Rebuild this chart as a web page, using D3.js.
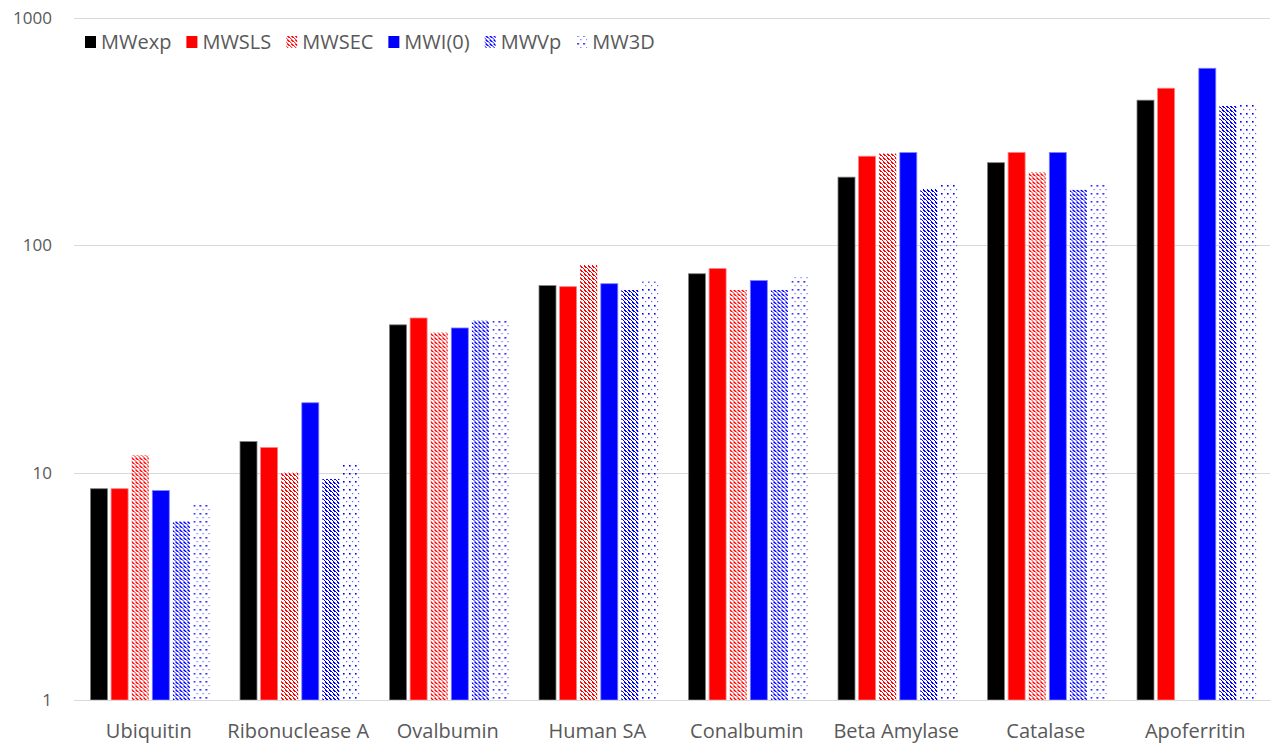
<!DOCTYPE html>
<html>
<head>
<meta charset="utf-8">
<script src="https://cdn.jsdelivr.net/npm/d3@7"></script>
<style>
  html, body { margin: 0; padding: 0; background: #fff; }
  svg { display: block; }
  text { font-family: "Open Sans", "Noto Sans", sans-serif; fill: #595959; }
</style>
</head>
<body>
<svg id="chart" width="1274" height="744"></svg>
<script>
// Proteins on the x axis
const categories = ["Ubiquitin", "Ribonuclease A", "Ovalbumin", "Human SA", "Conalbumin", "Beta Amylase", "Catalase", "Apoferritin"];

// Series names, in legend / bar order
const seriesNames = ["MWexp", "MWSLS", "MWSEC", "MWI(0)", "MWVp", "MW3D"];

// Molecular weights (kDa) per series, one value per protein (null = not measured)
const mwExp = [8.5, 13.7, 44.7, 66.5, 75, 199.5, 231, 435];
const mwSLS = [8.5, 12.9, 47.9, 65.8, 79, 246.6, 256, 491];
const mwSEC = [11.9, 10.0, 41.4, 82, 63.6, 253.4, 209.8, null];
const mwI0  = [8.34, 20.3, 43.3, 67.8, 70, 255.8, 256, 601];
const mwVp  = [6.11, 9.38, 46.7, 63.6, 63.6, 177, 175.4, 410];
const mw3D  = [7.36, 11.1, 46.5, 69.2, 74, 188.8, 187.7, 422];

// Log axis ticks
const yTicks = [1, 10, 100, 1000];

const seriesValues = [mwExp, mwSLS, mwSEC, mwI0, mwVp, mw3D];

const svg = d3.select("#chart");
const margin = { left: 74, right: 4, top: 18, bottom: 44 };
const W = 1274, H = 744;

const x = d3.scaleBand()
  .domain(categories)
  .range([margin.left, W - margin.right])
  .paddingInner(0).paddingOuter(0);

const barW = 16.5, barStep = 20;
const groupW = barStep * (seriesNames.length - 1) + barW;
const x1 = d3.scaleBand()
  .domain(seriesNames)
  .range([0, groupW + (barStep - barW)])
  .paddingInner((barStep - barW) / barStep)
  .paddingOuter(0);

const y = d3.scaleLog()
  .domain([1, 1000])
  .range([H - margin.bottom, margin.top]);

// Fill patterns
const defs = svg.append("defs");
function stripes(id, color) {
  const p = defs.append("pattern")
    .attr("id", id).attr("patternUnits", "userSpaceOnUse")
    .attr("width", 4).attr("height", 4);
  p.append("path")
    .attr("d", "M-1,-1 L5,5 M-1,3 L1,5 M3,-1 L5,1")
    .attr("stroke", color).attr("stroke-width", 1.4)
    .attr("shape-rendering", "crispEdges");
}
stripes("stripesRed", "#ff0000");
stripes("stripesBlue", "#0000ff");

const dots = defs.append("pattern")
  .attr("id", "dotsBlue").attr("patternUnits", "userSpaceOnUse")
  .attr("width", 6).attr("height", 8);
dots.append("rect").attr("x", 1).attr("y", 1).attr("width", 1.6).attr("height", 1.6).attr("fill", "#0000ff");
dots.append("rect").attr("x", 4).attr("y", 5).attr("width", 1.2).attr("height", 1.2).attr("fill", "#6666ff");

const styles = {
  "MWexp":  { fill: "#000000", stroke: "#7f7f7f" },
  "MWSLS":  { fill: "#ff0000", stroke: "#ff8080" },
  "MWSEC":  { fill: "url(#stripesRed)", stroke: "none" },
  "MWI(0)": { fill: "#0000ff", stroke: "#8080ff" },
  "MWVp":   { fill: "url(#stripesBlue)", stroke: "none" },
  "MW3D":   { fill: "url(#dotsBlue)", stroke: "none" }
};

// Gridlines
svg.append("g")
  .selectAll("line")
  .data(yTicks)
  .join("line")
  .attr("x1", margin.left).attr("x2", W - margin.right)
  .attr("y1", d => Math.round(y(d)) + 0.5).attr("y2", d => Math.round(y(d)) + 0.5)
  .attr("stroke", "#d9d9d9").attr("stroke-width", 1);

// Y axis labels
const yAxis = d3.axisLeft(y).tickValues(yTicks).tickFormat(d3.format("d")).tickSize(0).tickPadding(22);
const gy = svg.append("g").attr("transform", `translate(${margin.left},0)`).call(yAxis);
gy.select(".domain").remove();
gy.selectAll("text").style("font-size", "17px").attr("fill", "#595959").style("font-family", null);

// Bars
const groups = svg.append("g")
  .selectAll("g")
  .data(categories)
  .join("g")
  .attr("transform", c => `translate(${x(c) + (x.bandwidth() - groupW) / 2},0)`);

groups.selectAll("rect")
  .data((c, i) => seriesNames.map((s, k) => ({ s, v: seriesValues[k][i] })).filter(d => d.v != null))
  .join("rect")
  .attr("x", d => x1(d.s))
  .attr("width", x1.bandwidth())
  .attr("y", d => y(d.v))
  .attr("height", d => y(1) - y(d.v))
  .attr("fill", d => styles[d.s].fill)
  .attr("stroke", d => styles[d.s].stroke)
  .attr("stroke-width", 0.8);

// X axis
const xAxis = d3.axisBottom(x).tickSize(0).tickPadding(24);
const gx = svg.append("g").attr("transform", `translate(0,${y(1)})`).call(xAxis);
gx.select(".domain").attr("stroke", "#d9d9d9");
gx.selectAll("text").style("font-size", "20px").attr("fill", "#595959").style("font-family", null);

// Legend
const legend = svg.append("g").attr("transform", "translate(85,42)");
let lx = 0;
seriesNames.forEach(s => {
  const item = legend.append("g").attr("transform", `translate(${lx},0)`);
  item.append("rect")
    .attr("x", 0).attr("y", -6).attr("width", 11).attr("height", 12)
    .attr("fill", styles[s].fill);
  const t = item.append("text")
    .attr("x", 16).attr("y", 0).attr("dy", "0.35em")
    .style("font-size", "20px")
    .text(s);
  lx += 16 + t.node().getComputedTextLength() + 15;
});
</script>
</body>
</html>
